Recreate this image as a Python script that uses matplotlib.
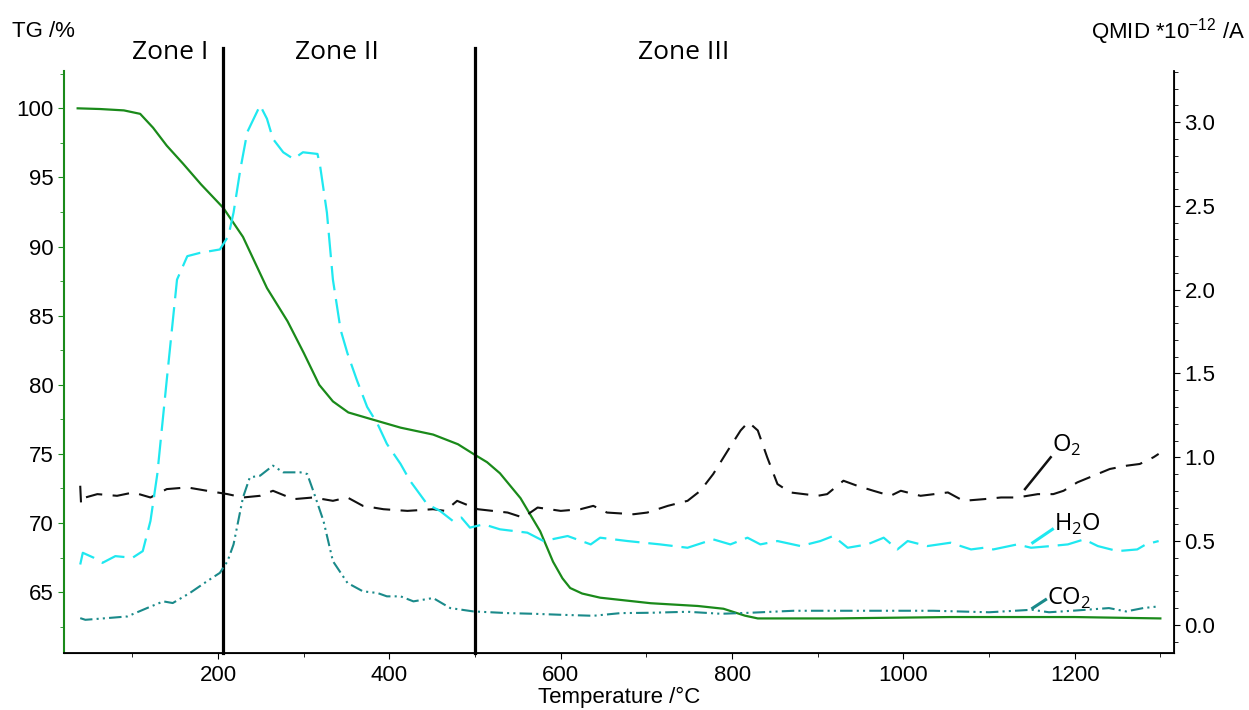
import matplotlib
matplotlib.use("Agg")
import matplotlib.pyplot as plt
from matplotlib.ticker import MultipleLocator

plt.rcParams['font.family'] = ['Liberation Sans', 'DejaVu Sans']
plt.rcParams['mathtext.fontset'] = 'custom'
plt.rcParams['mathtext.rm'] = 'Open Sans'

# TG curve (left axis, %)
t_tg = [36, 62, 90, 109, 124, 140, 159, 180, 206, 229, 257, 281, 300, 318, 334, 352, 374, 413,
        451, 480, 498, 514, 529, 553, 576, 591, 602, 611, 625, 646, 705, 760, 790, 815, 830,
        918, 1055, 1200, 1300]
tg = [100.0, 99.95, 99.85, 99.6, 98.6, 97.3, 96.0, 94.5, 92.8, 90.7, 87.0, 84.6, 82.3, 80.0,
      78.8, 78.0, 77.6, 76.9, 76.4, 75.7, 75.0, 74.4, 73.6, 71.8, 69.4, 67.2, 66.0, 65.3, 64.9,
      64.6, 64.2, 64.0, 63.8, 63.3, 63.1, 63.1, 63.2, 63.2, 63.1]

# QMID ion currents (right axis, *10^-12 A)
t_h2o = [39, 42, 55, 65, 80, 100, 112, 121, 129, 140, 152, 164, 179, 202, 212, 218, 226, 234,
         249, 257, 264, 276, 288, 299, 316, 319, 327, 334, 343, 351, 362, 374, 386, 397, 413,
         424, 444, 459, 474, 484, 494, 510, 529, 545, 561, 580, 608, 635, 646, 678, 716, 748,
         778, 798, 818, 833, 853, 880, 903, 918, 935, 958, 977, 993, 1005, 1028, 1055, 1079,
         1094, 1105, 1133, 1149, 1172, 1192, 1211, 1227, 1250, 1273, 1283, 1298]
h2o = [0.36, 0.43, 0.40, 0.37, 0.41, 0.40, 0.44, 0.62, 0.90, 1.46, 2.06, 2.20, 2.22, 2.24, 2.32,
       2.46, 2.72, 2.94, 3.10, 3.02, 2.90, 2.82, 2.78, 2.82, 2.81, 2.74, 2.46, 2.06, 1.76, 1.62,
       1.46, 1.30, 1.20, 1.08, 0.96, 0.86, 0.72, 0.68, 0.62, 0.64, 0.58, 0.60, 0.57, 0.56, 0.55,
       0.50, 0.53, 0.48, 0.52, 0.50, 0.48, 0.46, 0.51, 0.48, 0.52, 0.48, 0.50, 0.47, 0.50, 0.53,
       0.46, 0.48, 0.52, 0.45, 0.50, 0.47, 0.49, 0.45, 0.46, 0.45, 0.48, 0.46, 0.47, 0.48, 0.51,
       0.47, 0.44, 0.45, 0.48, 0.50]

t_o2 = [39, 40, 45, 59, 82, 101, 121, 140, 164, 187, 211, 229, 249, 264, 288, 311, 334, 351,
        369, 393, 421, 451, 465, 479, 503, 538, 556, 573, 600, 623, 638, 654, 685, 701, 725,
        748, 763, 778, 795, 810, 819, 830, 841, 853, 868, 900, 911, 930, 946, 965, 985, 997,
        1020, 1052, 1070, 1094, 1114, 1133, 1157, 1175, 1187, 1203, 1222, 1241, 1261, 1276,
        1292, 1298]
o2 = [0.83, 0.72, 0.76, 0.78, 0.77, 0.79, 0.76, 0.81, 0.82, 0.80, 0.78, 0.76, 0.77, 0.80, 0.75,
      0.76, 0.74, 0.76, 0.71, 0.69, 0.68, 0.69, 0.68, 0.74, 0.69, 0.67, 0.64, 0.70, 0.68, 0.69,
      0.71, 0.67, 0.66, 0.67, 0.71, 0.74, 0.80, 0.90, 1.04, 1.16, 1.21, 1.16, 1.00, 0.84, 0.79,
      0.77, 0.78, 0.86, 0.83, 0.80, 0.77, 0.80, 0.77, 0.79, 0.74, 0.75, 0.76, 0.76, 0.78, 0.78,
      0.80, 0.85, 0.89, 0.93, 0.95, 0.96, 1.00, 1.02]

t_co2 = [39, 45, 70, 94, 117, 136, 147, 167, 187, 202, 211, 218, 229, 237, 249, 264, 276, 296,
         304, 311, 323, 334, 351, 369, 386, 397, 413, 428, 451, 471, 498, 538, 568, 600, 638,
         670, 705, 748, 787, 821, 872, 918, 977, 1035, 1100, 1150, 1170, 1200, 1240, 1260,
         1280, 1298]
co2 = [0.04, 0.03, 0.04, 0.05, 0.10, 0.14, 0.13, 0.19, 0.26, 0.31, 0.38, 0.48, 0.76, 0.88, 0.89,
       0.95, 0.91, 0.91, 0.90, 0.80, 0.62, 0.38, 0.25, 0.20, 0.19, 0.17, 0.17, 0.14, 0.16, 0.10,
       0.08, 0.07, 0.066, 0.06, 0.054, 0.07, 0.072, 0.078, 0.066, 0.072, 0.084, 0.084, 0.084,
       0.084, 0.075, 0.09, 0.075, 0.085, 0.10, 0.08, 0.10, 0.11]

zone_bounds = [206, 500]
zone_labels = ["Zone I", "Zone II", "Zone III"]
zone_label_t = [144, 339, 744]

green = '#1a8a1a'
cyan = '#1fe8f0'
teal = '#1a8a8a'

fig = plt.figure(figsize=(12.49, 7.10), dpi=100)
ax = fig.add_axes([0.0512, 0.0803, 0.8888, 0.8197])
ax2 = ax.twinx()

ax.plot(t_tg, tg, color=green, lw=1.6)
ax2.plot(t_o2, o2, color='#111111', lw=1.5, dashes=(8, 5))
ax2.plot(t_h2o, h2o, color=cyan, lw=1.6, dashes=(11, 4))
ax2.plot(t_co2, co2, color=teal, lw=1.5, dashes=(6, 2, 1, 2, 1, 2))

ax.set_xlim(20, 1316)
ax.set_ylim(60.6, 102.7)
ax2.set_ylim(-0.168, 3.305)

for tb in zone_bounds:
    ax.axvline(tb, ymin=0, ymax=1.04, color='black', lw=2.3, clip_on=False)
for lab, tx in zip(zone_labels, zone_label_t):
    ax.text(tx, 1.01, lab, transform=ax.get_xaxis_transform(), ha='center', va='bottom',
            fontsize=19, family=['Open Sans', 'DejaVu Sans'])

# axis styling
ax.spines['top'].set_visible(False)
ax2.spines['top'].set_visible(False)
ax.spines['left'].set_color(green)
ax.spines['left'].set_linewidth(1.5)
ax2.spines['left'].set_visible(False)
ax2.spines['right'].set_linewidth(1.3)
ax.spines['bottom'].set_linewidth(1.3)

ax.xaxis.set_major_locator(MultipleLocator(200))
ax.xaxis.set_minor_locator(MultipleLocator(100))
ax.yaxis.set_major_locator(MultipleLocator(5))
ax.yaxis.set_minor_locator(MultipleLocator(2.5))
ax2.yaxis.set_major_locator(MultipleLocator(0.5))
ax2.yaxis.set_minor_locator(MultipleLocator(0.1))
ax2.yaxis.set_major_formatter(plt.FormatStrFormatter('%.1f'))

ax.tick_params(axis='both', which='both', labelsize=16, direction='out')
ax.tick_params(axis='y', which='both', color=green)
ax.tick_params(which='major', length=4)
ax.tick_params(which='minor', length=3)
ax.tick_params(axis='x', pad=5)
ax2.tick_params(axis='y', which='major', labelsize=16, length=4)
ax2.tick_params(axis='y', which='minor', length=3)

ax.set_xlabel('Temperature /°C', fontsize=16, labelpad=0)
fig.text(0.0096, 0.955, 'TG /%', fontsize=16, ha='left', va='center')
fig.text(0.997, 0.955, r'QMID *10$^\mathregular{-12}$ /A', fontsize=16, ha='right', va='center')

# curve labels with leader lines
lab_font = ['Open Sans', 'DejaVu Sans']
ax2.plot([1142, 1172], [0.81, 1.00], color='#111111', lw=1.8)
ax2.text(1174, 1.07, r'O$_\mathregular{2}$', fontsize=17, family=lab_font, ha='left', va='center')
ax2.plot([1151, 1174], [0.49, 0.57], color=cyan, lw=2.2)
ax2.text(1176, 0.60, r'H$_\mathregular{2}$O', fontsize=17, family=lab_font, ha='left', va='center')
ax2.plot([1151, 1166], [0.10, 0.15], color=teal, lw=2.2)
ax2.text(1168, 0.16, r'CO$_\mathregular{2}$', fontsize=17, family=lab_font, ha='left', va='center')

fig.savefig('out.png', dpi=100)
